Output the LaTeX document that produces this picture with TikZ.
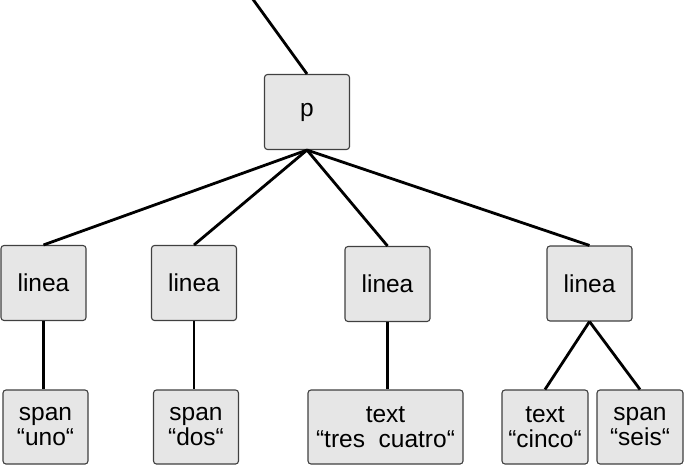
\documentclass[tikz,border=0pt]{standalone}
\usepackage{fontspec}
\setmainfont{Liberation Sans}
\usepackage{tikz}
\usetikzlibrary{calc}
\definecolor{boxgrey}{HTML}{E6E6E6}
\definecolor{edgegrey}{HTML}{404040}

\begin{document}
\begin{tikzpicture}[
  x=1pt, y=-1pt,
  tnode/.style={rectangle, rounded corners=3pt, draw=edgegrey, line width=1.1pt, fill=boxgrey,
    minimum width=85pt, minimum height=75pt, inner sep=0pt, align=center,
    font=\fontsize{24.5}{25}\selectfont},
  link/.style={black, line width=2.8pt},
]
\useasboundingbox (0,0) rectangle (684,466);

% root
\coordinate (up) at (252,-2);
\node[tnode] (p) at (307,112) {p};
\draw[link] (up) -- (p.north);

% lineas
\node[tnode] (l1) at (43.5,283) {linea};
\node[tnode] (l2) at (194,283) {linea};
\node[tnode] (l3) at (387.5,284) {linea};
\node[tnode] (l4) at (589.5,283.5) {linea};
\draw[link] (p.south) -- (l1.north);
\draw[link] (p.south) -- (l2.north);
\draw[link] (p.south) -- (l3.north);
\draw[link] (p.south) -- (l4.north);

% leaves
\node[tnode, minimum height=74pt] (s1) at (45.5,427) {span\\“uno“};
\node[tnode, minimum height=74pt] (s2) at (196,427) {span\\“dos“};
\node[tnode, minimum height=74pt, minimum width=155pt] (t3) at (385.5,427) {text\\“tres~~cuatro“};
\node[tnode, minimum height=74pt, minimum width=86pt] (t4) at (545,427) {text\\“cinco“};
\node[tnode, minimum height=74pt, minimum width=86pt] (s4) at (640,427) {span\\“seis“};
\draw[link] (l1.south) -- (l1.south |- s1.north);
\draw[link] (l2.south) -- (l2.south |- s2.north);
\draw[link] (l3.south) -- (l3.south |- t3.north);
\draw[link] (l4.south) -- (t4.north);
\draw[link] (l4.south) -- (s4.north);
\end{tikzpicture}
\end{document}
